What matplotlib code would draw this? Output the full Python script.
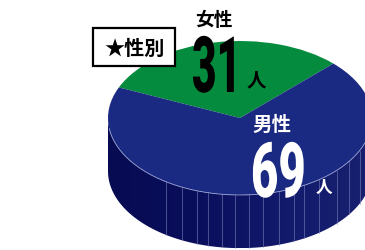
import numpy as np
import matplotlib
matplotlib.use("Agg")
import matplotlib.pyplot as plt
from matplotlib.patches import Polygon, Rectangle
from matplotlib.transforms import Affine2D
from matplotlib.colors import LinearSegmentedColormap
from matplotlib.patheffects import AbstractPathEffect

# =====================================================
# DATA
# =====================================================
categories = ["女性", "男性"]
counts = [31, 69]
unit = "人"
title = "★性別"
slice_colors = ["#058b3d", "#1a2982"]

# thin seams on the side wall of the disc (angle in degrees)
seam_angles = [236, 244, 251, 256, 262, 268, 274, 280, 287, 294, 299, 307, 317, 326, 335]

CJK = ["Noto Sans CJK JP", "DejaVu Sans"]


# tall, condensed look for the big numbers: stretch glyphs upwards
# from the baseline
class Stretch(AbstractPathEffect):
    def __init__(self, sy):
        super().__init__()
        self.sy = sy

    def draw_path(self, renderer, gc, tpath, affine, rgbFace=None):
        x0, y0 = affine.transform((0, 0))
        tall = Affine2D().translate(-x0, -y0).scale(1, self.sy).translate(x0, y0)
        renderer.draw_path(gc, tpath, affine + tall, rgbFace)


# =====================================================
# FIGURE (axes in pixel units, y downwards)
# =====================================================
fig = plt.figure(figsize=(3.65, 2.51), dpi=100)
ax = fig.add_axes([0, 0, 1, 1])

cx, cy, a, b = 240, 119, 132, 77
depth = 0.69
disc = Affine2D().scale(a, -b).translate(cx, cy) + ax.transData

# ----- top face -----
wedges, _ = ax.pie(
    counts,
    colors=slice_colors,
    startangle=45,
    counterclock=True,
    radius=1,
    center=(0, 0),
    frame=True,
    wedgeprops=dict(linewidth=0),
)
for w in wedges:
    w.set_transform(disc)
    w.set_zorder(3)

# ----- side wall -----
t = np.radians(np.linspace(180, 360, 181))
rim = np.column_stack([np.cos(t), np.sin(t)])
wall = np.vstack([rim, rim[::-1] - [0, depth]])
side = Polygon(wall, closed=True, transform=disc, fc="none", ec="none", zorder=1)
ax.add_patch(side)

side_cmap = LinearSegmentedColormap.from_list(
    "side", ["#070b52", "#0a0f5c", "#121a6c", "#18206f"]
)
grad = np.linspace(0, 1, 256)[None, :]
img = ax.imshow(
    grad, cmap=side_cmap, extent=(-1, 1, -1 - depth, 0),
    transform=disc, aspect="auto", zorder=1, interpolation="bilinear"
)
img.set_clip_path(side)

for ang in seam_angles:
    s = np.radians(ang)
    ax.plot([np.cos(s), np.cos(s)], [np.sin(s), np.sin(s) - depth],
            color="#7a84c0", lw=0.5, alpha=0.8, transform=disc, zorder=2)

# light rim along the front edge of the top face
tr = np.radians(np.linspace(188, 360, 173))
ax.plot(np.cos(tr), np.sin(tr), color="#949dd0", lw=0.6,
        transform=disc, zorder=4)

# =====================================================
# LABELS
# =====================================================
# 女性
ax.text(214, 20, categories[0], ha="center", va="center", fontsize=13.5,
        fontweight="bold", color="black", family=CJK, zorder=6)
ax.text(192, 93, str(counts[0]), ha="left", va="baseline", fontsize=30.5,
        fontweight="black", color="black", family="Roboto", zorder=6,
        path_effects=[Stretch(1.84)])
ax.text(247, 81, unit, ha="left", va="center", fontsize=14,
        fontweight="bold", color="black", family=CJK, zorder=6)

# 男性
ax.text(272, 125, categories[1], ha="center", va="center", fontsize=14,
        fontweight="bold", color="white", family=CJK, zorder=6)
ax.text(251, 198, str(counts[1]), ha="left", va="baseline", fontsize=34,
        fontweight="black", color="white", family="Roboto", zorder=6,
        path_effects=[Stretch(1.62)])
ax.text(316, 188, unit, ha="left", va="center", fontsize=12,
        fontweight="bold", color="white", family=CJK, zorder=6)

# ★性別 box
ax.add_patch(Rectangle((93, 29), 82, 38, fc="white", ec="black", lw=1.6, zorder=5))
ax.text(134, 48, title, ha="center", va="center", fontsize=14.5,
        fontweight="bold", color="black", family=CJK, zorder=6)

ax.set_aspect("auto")
ax.set_xlim(0, 365)
ax.set_ylim(251, 0)
ax.axis("off")

fig.savefig("out.png", dpi=100)
